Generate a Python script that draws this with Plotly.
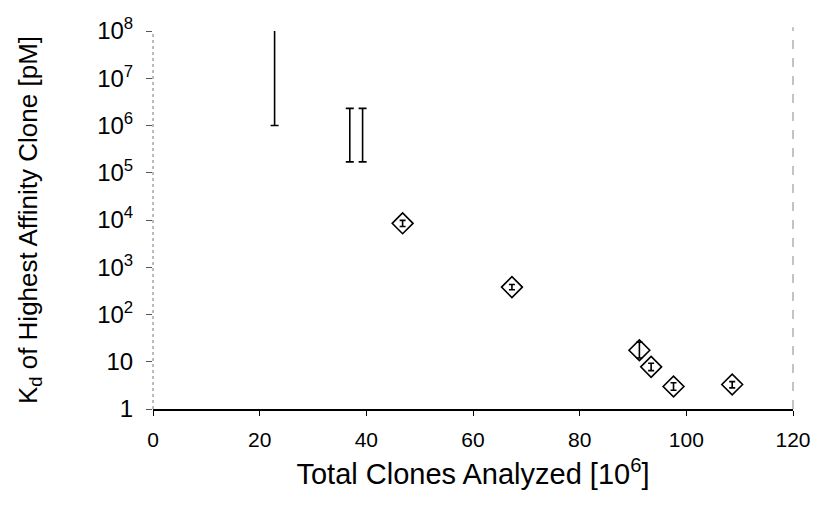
import plotly.graph_objects as go

# Ranges without markers (min/max Kd)
range_x = [22.8, 36.9, 39.3]
range_lo = [1.0e6, 1.7e5, 1.7e5]
range_hi = [1.1e8, 2.3e6, 2.3e6]

# Measured points with error bars
pt_x = [46.8, 67.3, 91.2, 93.4, 97.6, 108.6]
pt_y = [8.5e3, 380, 17.5, 7.8, 3.0, 3.3]
pt_hi = [9.8e3, 430, 26, 9.3, 3.6, 3.8]
pt_lo = [7.3e3, 335, 12, 6.5, 2.5, 2.8]

x_ticks = [0, 20, 40, 60, 80, 100, 120]
y_ticks = [1, 10, 1e2, 1e3, 1e4, 1e5, 1e6, 1e7, 1e8]
y_ticktext = ["1", "10", "10<sup>2</sup>", "10<sup>3</sup>", "10<sup>4</sup>",
              "10<sup>5</sup>", "10<sup>6</sup>", "10<sup>7</sup>", "10<sup>8</sup>"]

range_mid = [(lo * hi) ** 0.5 for lo, hi in zip(range_lo, range_hi)]

fig = go.Figure()
fig.add_trace(go.Scatter(
    x=range_x, y=range_mid, mode="markers",
    marker=dict(size=1, opacity=0),
    error_y=dict(type="data", symmetric=False,
                 array=[h - m for h, m in zip(range_hi, range_mid)],
                 arrayminus=[m - l for l, m in zip(range_lo, range_mid)],
                 color="black", thickness=1.6, width=4),
    showlegend=False, hoverinfo="skip"))
fig.add_trace(go.Scatter(
    x=pt_x, y=pt_y, mode="markers",
    marker=dict(symbol="diamond-open", size=16, color="black", line=dict(width=1.6, color="black")),
    error_y=dict(type="data", symmetric=False,
                 array=[h - y for h, y in zip(pt_hi, pt_y)],
                 arrayminus=[y - l for l, y in zip(pt_lo, pt_y)],
                 color="black", thickness=1.6, width=3),
    showlegend=False))

font_family = "Liberation Sans, Arial, sans-serif"

fig.update_layout(
    width=823, height=507,
    margin=dict(l=153, r=20, t=31, b=98),
    paper_bgcolor="white", plot_bgcolor="white",
    font=dict(family=font_family, color="black"),
    xaxis=dict(range=[0, 120], tickvals=x_ticks, showgrid=False, zeroline=False,
               showline=True, linecolor="black", linewidth=1.5,
               ticks="outside", ticklen=5, tickcolor="black", tickwidth=1,
               tickfont=dict(size=21), ticklabelstandoff=6,
               title=dict(text="Total Clones Analyzed [10<sup>6</sup>]", font=dict(size=29), standoff=14)),
    yaxis=dict(type="log", range=[0, 8], tickvals=y_ticks, ticktext=y_ticktext,
               showgrid=False, zeroline=False, showline=False,
               ticks="outside", ticklen=6, tickcolor="#555", tickwidth=1,
               tickfont=dict(size=24), ticklabelstandoff=8,
               title=dict(text="K<sub>d</sub> of Highest Affinity Clone [pM]", font=dict(size=26), standoff=52)),
    shapes=[
        dict(type="line", xref="paper", yref="paper", x0=0, x1=0, y0=0, y1=1,
             line=dict(color="#777", width=1, dash="dot")),
        dict(type="line", xref="paper", yref="paper", x0=1, x1=1, y0=0, y1=1.01,
             line=dict(color="#888", width=1, dash="dash")),
    ],
)

fig.write_html("out.html")
